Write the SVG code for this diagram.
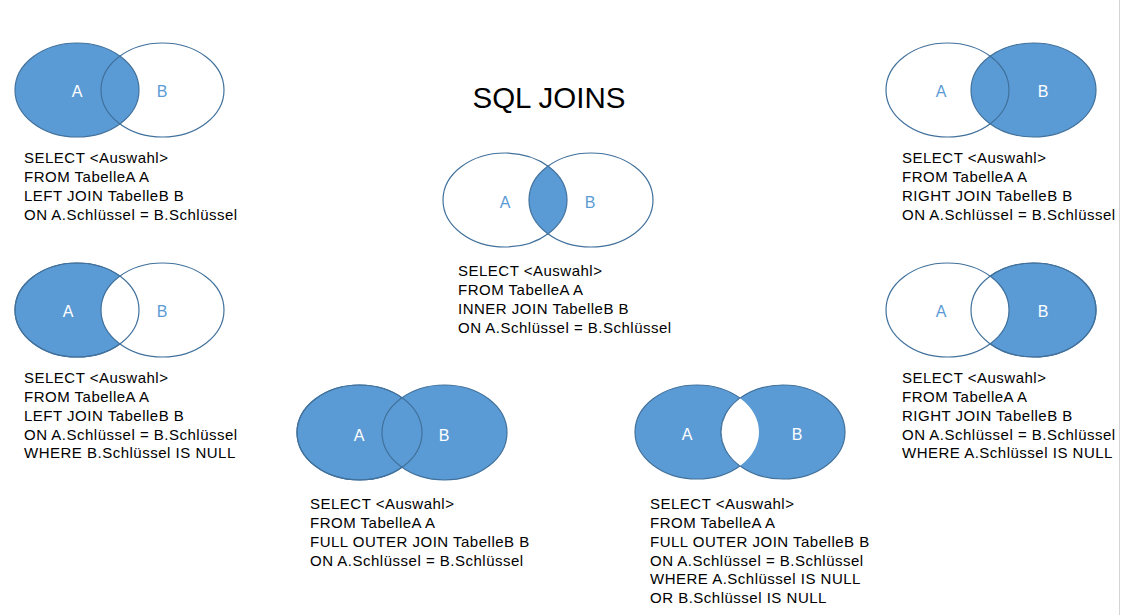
<svg xmlns="http://www.w3.org/2000/svg" width="1121" height="615" viewBox="0 0 1121 615">
<style>
.f{fill:#5B9BD5;stroke:#41719C;stroke-width:1.2}
.w{fill:#FFFFFF;stroke:#41719C;stroke-width:1.2}
.o{fill:none;stroke:#41719C;stroke-width:1.2}
.n{fill:#5B9BD5;stroke:none}
.lw{font-family:"Liberation Sans",Arial,sans-serif;font-size:16px;fill:#FFFFFF;text-anchor:middle}
.lb{font-family:"Liberation Sans",Arial,sans-serif;font-size:16px;fill:#5B9BD5;text-anchor:middle}
.t{font-family:"Liberation Sans",Arial,sans-serif;font-size:15px;letter-spacing:0.5px;fill:#000000}
.h{font-family:"Liberation Sans",Arial,sans-serif;font-size:29.5px;fill:#000000;text-anchor:middle}
</style>
<defs>
<clipPath id="c3"><ellipse cx="505" cy="200" rx="62" ry="47"/></clipPath>
<clipPath id="c7"><ellipse cx="697" cy="432" rx="62" ry="47"/></clipPath>
</defs>
<rect x="0" y="0" width="1121" height="615" fill="#FFFFFF"/>
<line x1="1119.5" y1="0" x2="1119.5" y2="615" stroke="#D4D4D4" stroke-width="1"/>
<text id="title" class="h" x="549" y="107.5">SQL JOINS</text>

<g id="left-join">
<ellipse class="f" cx="77" cy="90" rx="62" ry="47"/>
<ellipse class="o" cx="162.5" cy="90" rx="61.5" ry="47"/>
<text class="lw" x="77" y="96.5">A</text>
<text class="lb" x="162" y="96.5">B</text>
<text class="t" x="24" y="163.4"><tspan x="24">SELECT &lt;Auswahl&gt;</tspan><tspan x="24" dy="18.7">FROM TabelleA A</tspan><tspan x="24" dy="18.7">LEFT JOIN TabelleB B</tspan><tspan x="24" dy="18.7">ON A.Schlüssel = B.Schlüssel</tspan></text>
</g>

<g id="left-excl">
<ellipse class="f" cx="77" cy="310" rx="62" ry="47"/>
<ellipse class="w" cx="162.5" cy="310" rx="61.5" ry="47"/>
<ellipse class="o" cx="77" cy="310" rx="62" ry="47"/>
<text class="lw" x="68" y="316.5">A</text>
<text class="lb" x="162" y="316.5">B</text>
<text class="t" x="24" y="383.4"><tspan x="24">SELECT &lt;Auswahl&gt;</tspan><tspan x="24" dy="18.7">FROM TabelleA A</tspan><tspan x="24" dy="18.7">LEFT JOIN TabelleB B</tspan><tspan x="24" dy="18.7">ON A.Schlüssel = B.Schlüssel</tspan><tspan x="24" dy="18.7">WHERE B.Schlüssel IS NULL</tspan></text>
</g>

<g id="inner-join">
<ellipse class="n" cx="591" cy="200" rx="62" ry="47" clip-path="url(#c3)"/>
<ellipse class="o" cx="505" cy="200" rx="62" ry="47"/>
<ellipse class="o" cx="591" cy="200" rx="62" ry="47"/>
<text class="lb" x="505" y="207.5">A</text>
<text class="lb" x="590" y="207.5">B</text>
<text class="t" x="458" y="276.4"><tspan x="458">SELECT &lt;Auswahl&gt;</tspan><tspan x="458" dy="18.7">FROM TabelleA A</tspan><tspan x="458" dy="18.7">INNER JOIN TabelleB B</tspan><tspan x="458" dy="18.7">ON A.Schlüssel = B.Schlüssel</tspan></text>
</g>

<g id="right-join">
<ellipse class="f" cx="1033.5" cy="90" rx="62.5" ry="47"/>
<ellipse class="o" cx="947.5" cy="90" rx="61.5" ry="47"/>
<text class="lb" x="941" y="96.5">A</text>
<text class="lw" x="1043" y="96.5">B</text>
<text class="t" x="902" y="163.4"><tspan x="902">SELECT &lt;Auswahl&gt;</tspan><tspan x="902" dy="18.7">FROM TabelleA A</tspan><tspan x="902" dy="18.7">RIGHT JOIN TabelleB B</tspan><tspan x="902" dy="18.7">ON A.Schlüssel = B.Schlüssel</tspan></text>
</g>

<g id="right-excl">
<ellipse class="f" cx="1033.5" cy="310" rx="62.5" ry="47"/>
<ellipse class="w" cx="947.5" cy="310" rx="61.5" ry="47"/>
<ellipse class="o" cx="1033.5" cy="310" rx="62.5" ry="47"/>
<text class="lb" x="941" y="316.5">A</text>
<text class="lw" x="1043" y="316.5">B</text>
<text class="t" x="902" y="383.4"><tspan x="902">SELECT &lt;Auswahl&gt;</tspan><tspan x="902" dy="18.7">FROM TabelleA A</tspan><tspan x="902" dy="18.7">RIGHT JOIN TabelleB B</tspan><tspan x="902" dy="18.7">ON A.Schlüssel = B.Schlüssel</tspan><tspan x="902" dy="18.7">WHERE A.Schlüssel IS NULL</tspan></text>
</g>

<g id="full-outer">
<ellipse class="f" cx="359.5" cy="432.5" rx="62.5" ry="47.5"/>
<ellipse class="f" cx="444.5" cy="432.5" rx="62.5" ry="47.5"/>
<ellipse class="o" cx="359.5" cy="432.5" rx="62.5" ry="47.5"/>
<text class="lw" x="359" y="440.5">A</text>
<text class="lw" x="444" y="440.5">B</text>
<text class="t" x="310" y="509.4"><tspan x="310">SELECT &lt;Auswahl&gt;</tspan><tspan x="310" dy="18.7">FROM TabelleA A</tspan><tspan x="310" dy="18.7">FULL OUTER JOIN TabelleB B</tspan><tspan x="310" dy="18.7">ON A.Schlüssel = B.Schlüssel</tspan></text>
</g>

<g id="full-outer-excl">
<ellipse class="f" cx="697" cy="432" rx="62" ry="47"/>
<ellipse class="f" cx="783" cy="432" rx="62" ry="47"/>
<ellipse fill="#FFFFFF" stroke="#41719C" stroke-width="1" cx="783" cy="432" rx="62" ry="47" clip-path="url(#c7)"/>
<text class="lw" x="687" y="439.5">A</text>
<text class="lw" x="797" y="439.5">B</text>
<text class="t" x="650" y="509.4"><tspan x="650">SELECT &lt;Auswahl&gt;</tspan><tspan x="650" dy="18.7">FROM TabelleA A</tspan><tspan x="650" dy="18.7">FULL OUTER JOIN TabelleB B</tspan><tspan x="650" dy="18.7">ON A.Schlüssel = B.Schlüssel</tspan><tspan x="650" dy="18.7">WHERE A.Schlüssel IS NULL</tspan><tspan x="650" dy="18.7">OR B.Schlüssel IS NULL</tspan></text>
</g>
</svg>
